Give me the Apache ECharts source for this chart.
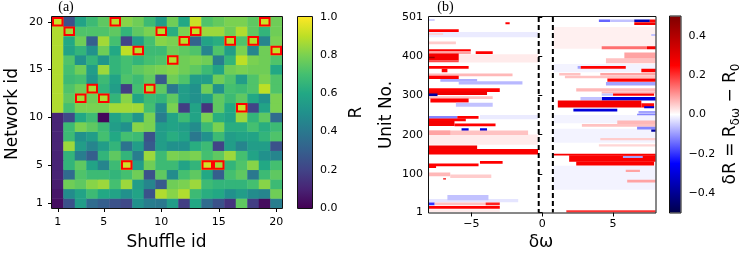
<!DOCTYPE html>
<html><head><meta charset="utf-8">
<script src="https://cdn.jsdelivr.net/npm/echarts@6/dist/echarts.min.js"></script>
<style>html,body{margin:0;padding:0;background:#fff}#c{width:748px;height:257px}</style>
</head><body><div id="c"></div>
<script>
// ---------- Panel (a) data ----------
const shuffleIds = ['1','2','3','4','5','6','7','8','9','10','11','12','13','14','15','16','17','18','19','20'];
const networkIds = ['1','2','3','4','5','6','7','8','9','10','11','12','13','14','15','16','17','18','19','20'];
const shuffleTickLabels = ['1','5','10','15','20'];
const networkTickLabels = ['1','5','10','15','20'];
// R values, one row per network id (1..20), columns = shuffle id 1..20
const rByNetwork = [
 [0.04,0.25,0.55,0.35,0.30,0.25,0.22,0.50,0.42,0.40,0.55,0.18,0.60,0.35,0.25,0.15,0.75,0.18,0.03,0.42],
 [0.06,0.48,0.58,0.68,0.60,0.58,0.50,0.58,0.25,0.88,0.82,0.88,0.68,0.62,0.60,0.50,0.55,0.48,0.45,0.78],
 [0.08,0.78,0.75,0.82,0.85,0.70,0.85,0.55,0.45,0.28,0.78,0.80,0.85,0.68,0.65,0.65,0.65,0.70,0.82,0.68],
 [0.10,0.35,0.72,0.68,0.68,0.65,0.70,0.78,0.25,0.75,0.48,0.70,0.75,0.60,0.30,0.70,0.75,0.40,0.68,0.75],
 [0.10,0.65,0.75,0.58,0.45,0.68,0.93,0.55,0.78,0.68,0.68,0.58,0.65,0.93,0.86,0.65,0.72,0.82,0.60,0.70],
 [0.10,0.65,0.42,0.30,0.65,0.75,0.65,0.42,0.85,0.68,0.80,0.78,0.80,0.70,0.75,0.85,0.70,0.58,0.50,0.45],
 [0.10,0.85,0.55,0.45,0.55,0.65,0.38,0.55,0.28,0.55,0.50,0.50,0.62,0.68,0.20,0.55,0.45,0.55,0.55,0.25],
 [0.10,0.68,0.50,0.55,0.70,0.60,0.70,0.68,0.25,0.55,0.62,0.58,0.40,0.50,0.68,0.55,0.58,0.58,0.65,0.72],
 [0.10,0.68,0.80,0.75,0.68,0.55,0.50,0.82,0.80,0.55,0.58,0.55,0.48,0.68,0.80,0.62,0.62,0.70,0.62,0.68],
 [0.10,0.22,0.60,0.68,0.02,0.58,0.65,0.52,0.80,0.42,0.58,0.68,0.58,0.80,0.62,0.58,0.85,0.65,0.75,0.35],
 [0.88,0.70,0.80,0.80,0.80,0.86,0.86,0.86,0.70,0.48,0.80,0.18,0.58,0.15,0.75,0.60,0.92,0.20,0.58,0.80],
 [0.88,0.75,0.86,0.78,0.88,0.65,0.82,0.58,0.68,0.65,0.75,0.55,0.50,0.55,0.75,0.68,0.75,0.60,0.50,0.80],
 [0.88,0.72,0.78,0.87,0.65,0.55,0.18,0.70,0.88,0.75,0.40,0.55,0.50,0.78,0.50,0.70,0.68,0.72,0.90,0.72],
 [0.88,0.68,0.70,0.52,0.68,0.58,0.72,0.68,0.75,0.28,0.78,0.72,0.55,0.55,0.78,0.72,0.55,0.72,0.80,0.72],
 [0.88,0.70,0.78,0.55,0.85,0.65,0.70,0.75,0.78,0.80,0.82,0.78,0.75,0.68,0.58,0.78,0.80,0.78,0.78,0.60],
 [0.88,0.72,0.50,0.65,0.52,0.65,0.70,0.65,0.70,0.72,0.89,0.78,0.80,0.78,0.42,0.65,0.90,0.80,0.78,0.72],
 [0.88,0.58,0.65,0.50,0.78,0.60,0.90,0.89,0.68,0.68,0.78,0.75,0.72,0.45,0.72,0.55,0.80,0.45,0.78,0.91],
 [0.88,0.60,0.78,0.30,0.86,0.70,0.20,0.55,0.70,0.82,0.80,0.89,0.32,0.58,0.62,0.89,0.72,0.89,0.45,0.80],
 [0.88,0.86,0.72,0.72,0.72,0.75,0.65,0.75,0.80,0.89,0.62,0.80,0.91,0.85,0.85,0.78,0.88,0.75,0.65,0.78],
 [0.92,0.25,0.58,0.68,0.75,0.89,0.82,0.78,0.68,0.55,0.78,0.60,0.92,0.72,0.76,0.80,0.80,0.75,0.92,0.78]
];
// network id marked with a red square, for each shuffle id 1..20
const markedNetworkPerShuffle = [20,19,12,13,12,20,5,17,13,19,16,18,19,5,5,18,11,18,20,17];

// ---------- Panel (b) data ----------
const deltaOmegaTicks = [-5,0,5];
const unitTicks = [1,100,200,300,400,501];
const deltaRTicks = [-0.4,-0.2,0,0.2,0.4];
const dashedDeltaOmega = [-0.25,0.75];
// bands: [unitFrom, unitTo, deltaOmegaFrom, deltaOmegaTo, deltaR]
const faintBands = [
 [450,462,-8,-0.3,-0.02],[385,405,-5.9,-0.3,0.02],[420,475,0.8,8,0.015],[175,200,-8,-0.3,0.02],
 [28,35,-8,-1.7,-0.025],[180,215,0.8,8,-0.012],[60,120,0.8,8,-0.012],[240,250,-4.4,-0.3,-0.02],
 [3,8,-8,-3,0.02],[360,380,0.8,8,-0.012],[230,250,0.8,8,-0.012]
];
const negativeSideBands = [
 [492,495,-8,-7.6,-0.06],[483,487,-2.6,-2.3,0.25],[463,469,-8,-5.9,0.25],[456,459,-8,-7.0,0.05],
 [432,438,-8,-6.1,0.05],[413,418,-8,-5.05,0.25],[407,413,-8,-5.05,0.09],[407,413,-4.7,-3.5,0.25],
 [390,407,-8,-5.9,0.27],[396,399,-8,-7.6,0.45],[386,390,-8,-5.9,0.18],[369,375,-8,-5.2,0.25],
 [360,368,-7.1,-6.7,0.25],[350,356,-8,-2.1,0.07],[343,350,-8,-5.9,0.25],[336,342,-7.2,-4.6,-0.08],
 [329,336,-5.9,-1.4,-0.07],[310,318,-8,-3.0,0.25],[302,310,-8,-3.9,0.28],[299,305,-8,-7.4,-0.38],
 [292,298,-8,-3.5,0.06],[283,292,-7.9,-5.2,0.25],[272,281,-6.1,-3.5,-0.06],[241,247,-8,-6.0,-0.12],
 [241,247,-6.0,-4.5,0.25],[235,241,-8,-5.4,0.25],[223,235,-8,-6.2,0.27],[222,228,-6.2,-3.3,0.25],
 [210,216,-5.7,-5.2,-0.3],[210,216,-4.4,-3.9,-0.3],[200,210,-8,-1.0,0.06],[200,210,-8,-6.5,0.09],
 [163,172,-8,-4.6,0.27],[150,163,-8,-0.3,0.26],[126,132,-4.4,-2.8,0.25],[120,126,-8,-4.5,0.25],
 [115,120,-8,-7.5,0.25],[94,103,-8,-6.5,0.07],[90,98,-6.5,-3.6,0.05],[86,88,-7.0,-6.8,0.28],
 [33,45,-6.7,-3.8,-0.06],[20,26,-8,-7.6,-0.2],[20,26,-7.6,-4.0,0.06],[20,26,-4.0,-3.0,0.22],
 [11,17,-8,-3.0,0.25]
];
const positiveSideBands = [
 [489,494,4.0,4.8,-0.15],[489,494,4.8,6.5,-0.06],[489,494,6.5,7.6,-0.35],[489,494,7.6,8,0.25],
 [481,487,6.5,8,0.27],[453,457,7.7,8,-0.06],[419,426,4.2,7.4,0.14],[419,426,7.4,8,0.27],
 [395,410,5.8,8,0.09],[383,395,4.5,8,0.06],[369,375,2.7,5.9,0.25],[369,375,2.5,2.7,-0.09],
 [360,368,7.0,8,0.25],[352,357,1.2,2.7,0.06],[352,357,4.1,8,0.09],[345,350,1.6,8,0.06],
 [336,343,4.6,8,0.25],[326,334,4.5,8,-0.09],[311,318,2.4,8,0.07],[306,310,4.2,8,0.07],
 [300,305,5.0,7.9,0.25],[300,305,4.2,5.0,-0.06],[288,296,4.2,8,-0.3],[288,296,2.7,4.2,-0.06],
 [270,287,1.1,7.0,0.27],[270,280,7.0,7.9,0.24],[268,272,7.2,7.9,-0.3],[260,266,2.2,5.3,-0.3],
 [255,260,6.8,8,-0.09],[250,253,6.7,8,-0.12],[227,236,5.3,8,0.07],[221,227,2.8,8,0.06],
 [214,220,6.7,8,-0.12],[208,213,7.7,8,-0.38],[186,191,4.1,8,0.05],[170,175,4.0,8,0.04],
 [147,151,0.75,8,0.26],[131,147,1.9,8,0.26],[141,145,5.7,7.1,-0.09],[122,131,2.4,7.9,0.26],
 [105,110,5.9,6.9,0.09],[78,84,6.0,8,0.09],[1,6,1.7,8,0.2]
];

// ---------- styling ----------
const viridis = ['#440154','#482475','#414487','#355f8d','#2a788e','#21918c','#22a884','#44bf70','#7ad151','#bddf26','#fde725'];
const seismic = ['#00004c','#0000ff','#ffffff','#ff0000','#800000'];
const FAM = '"DejaVu Sans", sans-serif';
const GA = {left:52, top:17, width:230, height:191};
const CA = {left:298, top:17, width:14, height:191};
const GB = {left:429, top:17, width:226.5, height:195.5};
const CB = {left:670, top:16.5, width:10.5, height:196};

const heatData = [];
rByNetwork.forEach((row, ni) => row.forEach((v, si) => heatData.push([si, ni, v])));
const markData = markedNetworkPerShuffle.map((n, si) => [si, networkIds.indexOf(String(n))]);
const bandData = faintBands.concat(negativeSideBands, positiveSideBands);
const stops = cols => cols.map((c, i) => ({offset: i / (cols.length - 1), color: c}));
const fmt1 = v => (v < 0 ? '\u2212' : '') + Math.abs(v).toFixed(1);
const fmtInt = v => (v < 0 ? '\u2212' : '') + Math.abs(v);
const tickStyle = {show:true, length:4, lineStyle:{color:'#000', width:1}};
const lbl = {color:'#000', fontFamily:FAM, fontSize:11};
const frame = g => ({type:'rect', z:100, silent:true, shape:{x:g.left-0.5, y:g.top-0.5, width:g.width+1, height:g.height+1}, style:{fill:'none', stroke:'#111', lineWidth:1}});
const txt = (x, y, text, size, rot, extra) => Object.assign({type:'text', x, y, rotation: rot || 0, z:100, silent:true,
  style:Object.assign({text, font: size + 'px ' + FAM, fill:'#000', align:'center', verticalAlign:'middle'}, extra || {})});

const chart = echarts.init(document.getElementById('c'), null, {renderer:'canvas'});
chart.setOption({
  animation:false,
  backgroundColor:'#fff',
  grid:[Object.assign({}, GA), Object.assign({}, CA), Object.assign({}, GB), Object.assign({}, CB)],
  xAxis:[
    {type:'category', gridIndex:0, data:shuffleIds, axisLine:{show:false}, splitLine:{show:false},
     axisTick:Object.assign({}, tickStyle, {alignWithLabel:true, interval:(i, v) => shuffleTickLabels.includes(v)}),
     axisLabel:Object.assign({}, lbl, {margin:9, interval:(i, v) => shuffleTickLabels.includes(v)})},
    {type:'value', gridIndex:1, min:0, max:1, show:false},
    {type:'value', gridIndex:2, min:-8, max:8, axisLine:{show:false}, splitLine:{show:false},
     axisTick:Object.assign({}, tickStyle, {customValues:deltaOmegaTicks}),
     axisLabel:Object.assign({}, lbl, {margin:6, customValues:deltaOmegaTicks, formatter:fmtInt})},
    {type:'value', gridIndex:3, min:0, max:1, show:false}
  ],
  yAxis:[
    {type:'category', gridIndex:0, data:networkIds, axisLine:{show:false}, splitLine:{show:false},
     axisTick:Object.assign({}, tickStyle, {alignWithLabel:true, interval:(i, v) => networkTickLabels.includes(v)}),
     axisLabel:Object.assign({}, lbl, {margin:9, interval:(i, v) => networkTickLabels.includes(v)})},
    {type:'value', gridIndex:1, min:0, max:1, interval:0.2, position:'right', axisLine:{show:false}, splitLine:{show:false},
     axisTick:tickStyle, axisLabel:Object.assign({}, lbl, {margin:8, formatter:fmt1})},
    {type:'value', gridIndex:2, min:1, max:501, axisLine:{show:false}, splitLine:{show:false},
     axisTick:Object.assign({}, tickStyle, {customValues:unitTicks}),
     axisLabel:Object.assign({}, lbl, {margin:6, customValues:unitTicks})},
    {type:'value', gridIndex:3, min:-0.5, max:0.5, position:'right', axisLine:{show:false}, splitLine:{show:false},
     axisTick:Object.assign({}, tickStyle, {customValues:deltaRTicks}),
     axisLabel:Object.assign({}, lbl, {margin:8, customValues:deltaRTicks, formatter:fmt1})}
  ],
  visualMap:[
    {type:'continuous', show:false, min:0, max:1, seriesIndex:0, dimension:2, inRange:{color:viridis}},
    {type:'continuous', show:false, min:-0.5, max:0.5, seriesIndex:2, dimension:4, inRange:{color:seismic}}
  ],
  series:[
    {type:'heatmap', xAxisIndex:0, yAxisIndex:0, data:heatData, itemStyle:{borderWidth:0}, emphasis:{disabled:true}},
    {type:'custom', xAxisIndex:0, yAxisIndex:0, data:markData, z:5,
     renderItem:(p, api) => {
       const c = api.coord([api.value(0), api.value(1)]); const s = api.size([1, 1]);
       return {type:'rect', shape:{x:c[0]-s[0]/2+1, y:c[1]-s[1]/2+1, width:s[0]-2, height:s[1]-2},
               style:{fill:'none', stroke:'#ff0000', lineWidth:2}};
     }},
    {type:'custom', xAxisIndex:2, yAxisIndex:2, data:bandData, clip:true, encode:{x:[2,3], y:[0,1]},
     renderItem:(p, api) => {
       const a = api.coord([api.value(2), api.value(1) + 0.5]); const b = api.coord([api.value(3), api.value(0) - 0.5]);
       return {type:'rect', shape:{x:a[0], y:a[1], width:b[0]-a[0], height:b[1]-a[1]}, style:{fill:api.visual('color')}};
     }},
    {type:'custom', xAxisIndex:1, yAxisIndex:1, data:[[0,0]],
     renderItem:(p, api) => {
       const a = api.coord([0, 1]); const b = api.coord([1, 0]);
       return {type:'rect', shape:{x:a[0], y:a[1], width:b[0]-a[0], height:b[1]-a[1]},
               style:{fill:new echarts.graphic.LinearGradient(0, 1, 0, 0, stops(viridis))}};
     }},
    {type:'custom', xAxisIndex:3, yAxisIndex:3, data:[[0,0]],
     renderItem:(p, api) => {
       const a = api.coord([0, 0.5]); const b = api.coord([1, -0.5]);
       return {type:'rect', shape:{x:a[0], y:a[1], width:b[0]-a[0], height:b[1]-a[1]},
               style:{fill:new echarts.graphic.LinearGradient(0, 1, 0, 0, stops(seismic))}};
     }},
    {type:'custom', xAxisIndex:2, yAxisIndex:2, data:dashedDeltaOmega.map(x => [x]), z:6,
     renderItem:(p, api) => {
       const a = api.coord([api.value(0), 501]); const b = api.coord([api.value(0), 1]);
       return {type:'line', shape:{x1:a[0], y1:a[1], x2:b[0], y2:b[1]},
               style:{stroke:'#000', lineWidth:2, lineDash:[5,3]}};
     }}
  ],
  graphic:[
    frame(GA), frame(CA), frame(GB), frame(CB),
    txt(66, 7, '(a)', 14, 0, {font:'14px "Liberation Serif", serif'}),
    txt(445.5, 7, '(b)', 14, 0, {font:'14px "Liberation Serif", serif'}),
    txt(13, 114, 'Network id', 17, Math.PI/2),
    txt(166.5, 242.5, 'Shuffle id', 17, 0),
    txt(356.5, 112.5, 'R', 17, Math.PI/2),
    txt(386.5, 115, 'Unit No.', 17, Math.PI/2),
    txt(541, 243, 'δω', 17, 0),
    {type:'text', x:731, y:124, rotation:Math.PI/2, z:100, silent:true,
     style:{text:'{a|δR = R}{s|δω}{a| − R}{s|0}', align:'center', verticalAlign:'middle',
       rich:{a:{fontFamily:FAM, fontSize:17, lineHeight:22, verticalAlign:'middle', fill:'#000'},
             s:{fontFamily:FAM, fontSize:12, lineHeight:12, verticalAlign:'bottom', fill:'#000'}}}}
  ]
});
</script></body></html>
